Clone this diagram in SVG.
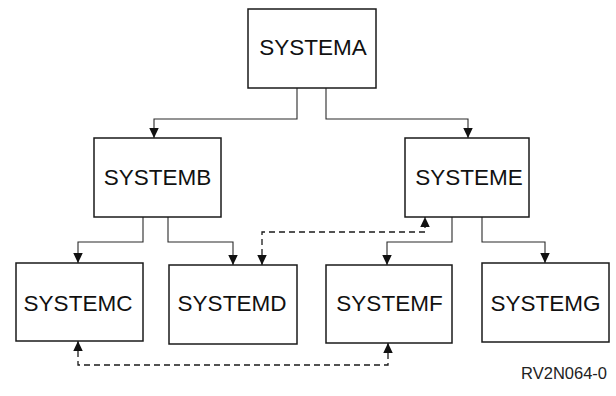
<svg xmlns="http://www.w3.org/2000/svg" width="616" height="396" viewBox="0 0 616 396">
  <style>
    .box { fill: #ffffff; stroke: #1a1a1a; stroke-width: 1.5; }
    .label { font-family: "Liberation Sans", Arial, sans-serif; font-size: 22.5px; fill: #111111; text-anchor: middle; }
    .link { fill: none; stroke: #2a2a2a; stroke-width: 1.1; }
    .dashed { stroke-dasharray: 6 4; stroke: #1a1a1a; stroke-width: 1.3; }
    .tag { font-family: "Liberation Sans", Arial, sans-serif; font-size: 16.5px; fill: #222222; text-anchor: end; }
  </style>
  <defs>
    <marker id="arrow" viewBox="0 0 10 10" refX="10" refY="5" markerWidth="10" markerHeight="9.5" markerUnits="userSpaceOnUse" orient="auto-start-reverse" preserveAspectRatio="none">
      <path d="M0,0 L10,5 L0,10 z" fill="#111111"/>
    </marker>
  </defs>

  <rect width="616" height="396" fill="#ffffff"/>

  <!-- connectors -->
  <g id="connectors">
    <path class="link" d="M297,88 V119 H154 V138" marker-end="url(#arrow)"/>
    <path class="link" d="M326,88 V119 H468 V138" marker-end="url(#arrow)"/>
    <path class="link" d="M143,217 V242 H78 V263" marker-end="url(#arrow)"/>
    <path class="link" d="M168,217 V242 H233 V265" marker-end="url(#arrow)"/>
    <path class="link" d="M452,217 V242 H387 V265" marker-end="url(#arrow)"/>
    <path class="link" d="M482,217 V242 H545 V263" marker-end="url(#arrow)"/>
    <path class="link dashed" d="M262,265 V232 H425 V217" marker-start="url(#arrow)" marker-end="url(#arrow)"/>
    <path class="link dashed" d="M78,341 V365 H388 V343" marker-start="url(#arrow)" marker-end="url(#arrow)"/>
  </g>

  <!-- nodes -->
  <g id="systema">
    <rect class="box" x="248" y="9" width="128" height="79"/>
    <text class="label" x="313" y="55">SYSTEMA</text>
  </g>
  <g id="systemb">
    <rect class="box" x="94" y="138" width="127" height="79"/>
    <text class="label" x="157.5" y="185">SYSTEMB</text>
  </g>
  <g id="systeme">
    <rect class="box" x="405" y="138" width="124" height="79"/>
    <text class="label" x="469" y="185">SYSTEME</text>
  </g>
  <g id="systemc">
    <rect class="box" x="16" y="263" width="127" height="78"/>
    <text class="label" x="78" y="311">SYSTEMC</text>
  </g>
  <g id="systemd">
    <rect class="box" x="169" y="265" width="128" height="79"/>
    <text class="label" x="232" y="311">SYSTEMD</text>
  </g>
  <g id="systemf">
    <rect class="box" x="326" y="265" width="126" height="78"/>
    <text class="label" x="389.5" y="311">SYSTEMF</text>
  </g>
  <g id="systemg">
    <rect class="box" x="482" y="263" width="127" height="79"/>
    <text class="label" x="545.5" y="311">SYSTEMG</text>
  </g>

  <text class="tag" x="607" y="379">RV2N064-0</text>
</svg>
